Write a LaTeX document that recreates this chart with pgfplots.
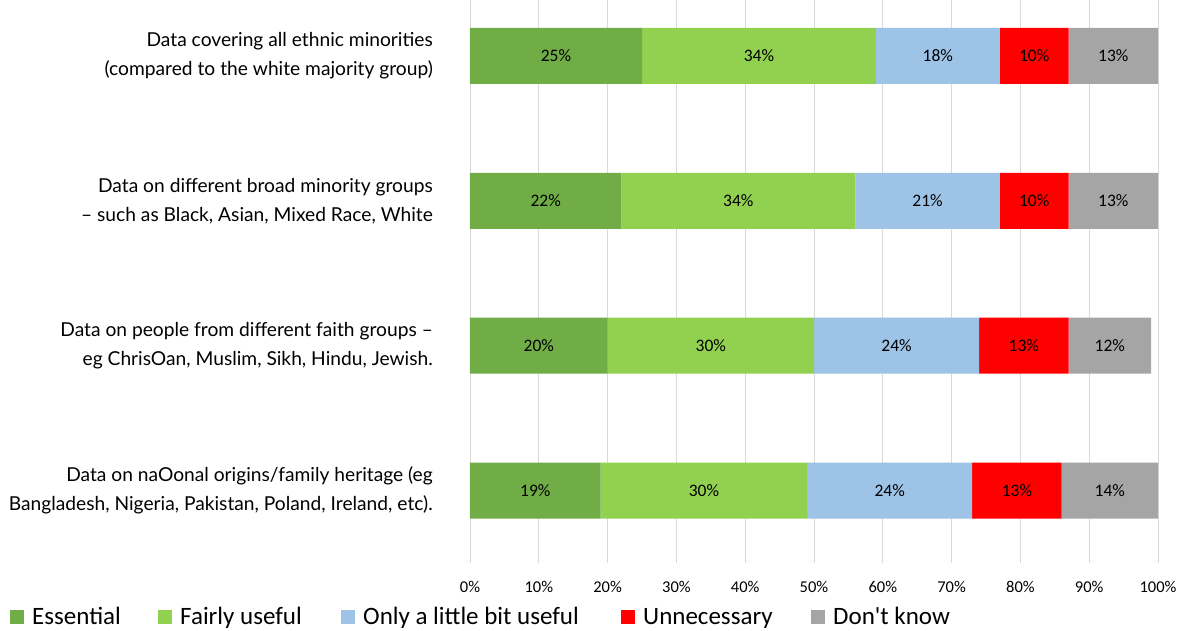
\documentclass[border=0pt]{standalone}
\usepackage{pgfplots}
\pgfplotsset{compat=1.18}
\usepackage{fontspec}
\setmainfont{Carlito}
\newfontfamily\labelfont{Lato}
\newfontfamily\plainfont{Carlito}
\definecolor{cEss}{RGB}{112,173,71}
\definecolor{cFair}{RGB}{146,208,80}
\definecolor{cLittle}{RGB}{157,195,230}
\definecolor{cUnn}{RGB}{255,0,0}
\definecolor{cDK}{RGB}{165,165,165}
\definecolor{cGrid}{RGB}{217,217,217}
\begin{document}
\begin{tikzpicture}
\useasboundingbox (0,0) rectangle (1181pt,630pt);
\begin{axis}[
  at={(470pt,67pt)}, anchor=south west,
  scale only axis, width=688pt, height=563pt,
  xbar stacked, bar width=56pt,
  xmin=0, xmax=100, ymin=-0.5, ymax=3.386,
  axis line style={draw=none},
  major tick length=0pt,
  xmajorgrids, grid style={cGrid, line width=0.8pt},
  xtick={0,10,...,100},
  xticklabel={\pgfmathprintnumber{\tick}\%},
  xticklabel style={font=\fontsize{16.5}{18}\selectfont, inner sep=0pt, anchor=north, yshift=-18.5pt},
  /pgf/number format/assume math mode=true,
  ytick={0,1,2,3},
  yticklabels={
    {Data on naOonal origins/family heritage (eg\\Bangladesh, Nigeria, Pakistan, Poland, Ireland, etc).},
    {Data on people from different faith groups –\\eg ChrisOan, Muslim, Sikh, Hindu, Jewish.},
    {Data on different broad minority groups\\– such as Black, Asian, Mixed Race, White},
    {Data covering all ethnic minorities\\(compared to the white majority group)}},
  yticklabel style={align=right, anchor=east, inner sep=0pt, xshift=-37pt,
    font=\labelfont\fontsize{19.2}{29}\selectfont},
  nodes near coords={\pgfmathprintnumber{\pgfplotspointmeta}\%},
  point meta=rawx,
  every node near coord/.append style={font=\fontsize{17.5}{19}\selectfont, black,
    anchor=center},
  legend columns=5,
  legend style={at={(-0.6686,-0.0959)}, anchor=west, draw=none, fill=none,
    inner sep=0pt, column sep=0pt, font=\fontsize{25}{28}\selectfont,
    nodes={inner sep=0pt}},
  legend image code/.code={\fill[#1] (0pt,-7pt) rectangle (14pt,7pt); \path (22pt,0pt);},
  legend cell align=left,
]
\addplot[fill=cEss, draw=none] coordinates {(19,0) (20,1) (22,2) (25,3)};
\addplot[fill=cFair, draw=none] coordinates {(30,0) (30,1) (34,2) (34,3)};
\addplot[fill=cLittle, draw=none] coordinates {(24,0) (24,1) (21,2) (18,3)};
\addplot[fill=cUnn, draw=none] coordinates {(13,0) (13,1) (10,2) (10,3)};
\addplot[fill=cDK, draw=none] coordinates {(14,0) (12,1) (13,2) (13,3)};
\legend{\makebox[126pt][l]{Essential},\makebox[161pt][l]{Fairly useful},\makebox[258pt][l]{Only a little bit useful},\makebox[168pt][l]{Unnecessary},{\plainfont Don't know}}
\end{axis}
\end{tikzpicture}
\end{document}
